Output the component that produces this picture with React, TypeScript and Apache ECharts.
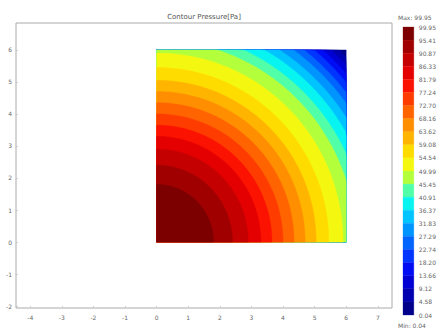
import React, { useEffect, useRef } from "react";
import * as echarts from "echarts";

// ---- data ----
const titleText = "Contour Pressure[Pa]";
const xTicks = [-4, -3, -2, -1, 0, 1, 2, 3, 4, 5, 6, 7];
const yTicks = [-2, -1, 0, 1, 2, 3, 4, 5, 6];
const xRange = [-4.45, 7.45];
const yRange = [-2.06, 6.84];
// body of the contour (square domain)
const domainX = [0, 6];
const domainY = [0, 6];
// colour-bar levels (top = max, bottom = min)
const levels = [
  99.95, 95.41, 90.87, 86.33, 81.79, 77.24, 72.7, 68.16, 63.62, 59.08, 54.54, 49.99,
  45.45, 40.91, 36.37, 31.83, 27.29, 22.74, 18.2, 13.66, 9.12, 4.58, 0.04,
];
const maxLabel = "Max: 99.95";
const minLabel = "Min: 0.04";
// one colour per band (band k lies between levels[k] and levels[k+1])
const bandColors = [
  "#7c0000", "#a00000", "#c40000", "#e40000", "#fc1200", "#ff3c00", "#ff6400",
  "#ff8e00", "#ffb400", "#ffdc00", "#f4f810", "#b4ff3c", "#50ffa8", "#08f4f0",
  "#00c4ff", "#0094ff", "#0064ff", "#0034ff", "#000cf4", "#0000d4", "#0000b0",
  "#00008a",
];
// radius (from the corner at 0,0) of each contour line, levels[1]..levels[21]
const contourRadii = [
  1.8, 2.4, 2.9, 3.3, 3.65, 4.0, 4.35, 4.7, 5.05, 5.45, 5.9, 6.3, 6.6, 6.9, 7.15,
  7.4, 7.6, 7.8, 7.98, 8.15, 8.32,
];

export default function App() {
  const ref = useRef<HTMLDivElement>(null);

  useEffect(() => {
    if (!ref.current) return;
    const chart = echarts.init(ref.current, null, { renderer: "svg" });

    const x0 = domainX[0];
    const y0 = domainY[0];
    const w = domainX[1] - domainX[0];
    const h = domainY[1] - domainY[0];

    const contourData: number[][] = [];
    contourData.push([Math.hypot(w, h), bandColors.length - 1]);
    for (let i = contourRadii.length - 1; i >= 0; i--) {
      contourData.push([contourRadii[i], i]);
    }

    const barData = bandColors.map((_, k) => [k, levels[k], levels[k + 1]]);

    const labelColor = "#666";

    chart.setOption({
      animation: false,
      backgroundColor: "#fff",
      grid: [
        {
          left: 16,
          top: 23,
          width: 376,
          height: 285,
          show: true,
          borderColor: "#aaa",
          borderWidth: 1,
          backgroundColor: "#fff",
        },
        { left: 403, top: 27, width: 12, height: 288 },
      ],
      xAxis: [
        {
          type: "value",
          gridIndex: 0,
          min: xRange[0],
          max: xRange[1],
          axisLine: { show: false, onZero: false },
          splitLine: { show: false },
          axisTick: {
            show: true,
            inside: true,
            length: 2,
            customValues: xTicks,
            lineStyle: { color: "#ccc" },
          },
          axisLabel: {
            customValues: xTicks,
            fontSize: 6,
            color: labelColor,
            margin: 6,
            fontFamily: "DejaVu Sans",
          },
        },
        {
          type: "value",
          gridIndex: 1,
          min: 0,
          max: 1,
          show: false,
        },
      ],
      yAxis: [
        {
          type: "value",
          gridIndex: 0,
          min: yRange[0],
          max: yRange[1],
          axisLine: { show: false, onZero: false },
          splitLine: { show: false },
          axisTick: {
            show: true,
            inside: true,
            length: 2,
            customValues: yTicks,
            lineStyle: { color: "#ccc" },
          },
          axisLabel: {
            customValues: yTicks,
            fontSize: 6,
            color: labelColor,
            margin: 4,
            fontFamily: "DejaVu Sans",
          },
        },
        {
          type: "value",
          gridIndex: 1,
          position: "right",
          min: levels[levels.length - 1],
          max: levels[0],
          axisLine: { show: false, onZero: false },
          axisTick: { show: false },
          splitLine: { show: false },
          axisLabel: {
            customValues: levels,
            formatter: (v: number) => v.toFixed(2),
            fontSize: 6,
            color: labelColor,
            margin: 5,
            fontFamily: "DejaVu Sans",
          },
        },
      ],
      series: [
        {
          type: "custom",
          xAxisIndex: 0,
          yAxisIndex: 0,
          data: contourData,
          renderItem: (params: any, api: any) => {
            const R = api.value(0);
            const color = bandColors[api.value(1)];
            const pts: number[][] = [api.coord([x0, y0])];
            const N = 90;
            for (let i = 0; i <= N; i++) {
              const th = (i / N) * (Math.PI / 2);
              const c = Math.cos(th);
              const s = Math.sin(th);
              let edge = Infinity;
              if (c > 1e-9) edge = Math.min(edge, w / c);
              if (s > 1e-9) edge = Math.min(edge, h / s);
              const d = Math.min(R, edge);
              pts.push(api.coord([x0 + d * c, y0 + d * s]));
            }
            return {
              type: "polygon",
              shape: { points: pts },
              style: { fill: color, stroke: color, lineWidth: 0.4 },
            };
          },
        },
        {
          type: "custom",
          xAxisIndex: 1,
          yAxisIndex: 1,
          data: barData,
          renderItem: (params: any, api: any) => {
            const k = api.value(0);
            const top = api.coord([0, api.value(1)]);
            const bot = api.coord([1, api.value(2)]);
            const color = bandColors[k];
            return {
              type: "rect",
              shape: {
                x: top[0],
                y: top[1],
                width: bot[0] - top[0],
                height: bot[1] - top[1],
              },
              style: { fill: color, stroke: color, lineWidth: 0.3 },
            };
          },
        },
      ],
      graphic: [
        {
          type: "text",
          x: 204,
          y: 17,
          style: {
            text: titleText,
            fontSize: 7,
            fill: "#555",
            align: "center",
            verticalAlign: "middle",
            fontFamily: "DejaVu Sans",
          },
        },
        {
          type: "text",
          x: 398,
          y: 17,
          style: {
            text: maxLabel,
            fontSize: 6,
            fill: labelColor,
            align: "left",
            verticalAlign: "middle",
            fontFamily: "DejaVu Sans",
          },
        },
        {
          type: "text",
          x: 398,
          y: 325,
          style: {
            text: minLabel,
            fontSize: 6,
            fill: labelColor,
            align: "left",
            verticalAlign: "middle",
            fontFamily: "DejaVu Sans",
          },
        },
      ],
    });

    return () => chart.dispose();
  }, []);

  return (
    <div
      ref={ref}
      style={{ position: "fixed", left: 0, top: 0, width: 439, height: 331, background: "#fff" }}
    />
  );
}
